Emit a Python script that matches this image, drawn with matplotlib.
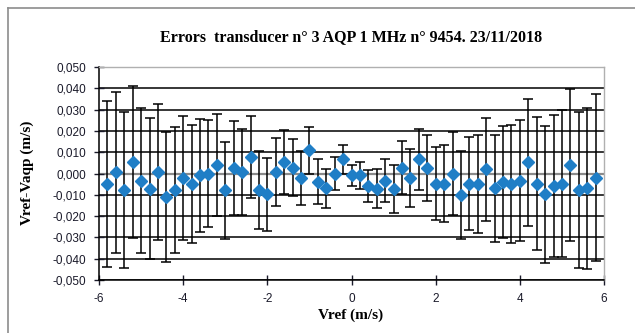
import matplotlib
matplotlib.use("Agg")
import matplotlib.pyplot as plt
from matplotlib.ticker import FixedLocator, FuncFormatter
from matplotlib.lines import Line2D

vref = [-5.8, -5.6, -5.4, -5.2, -5.0, -4.8, -4.6, -4.4, -4.2, -4.0,
        -3.8, -3.6, -3.4, -3.2, -3.0, -2.8, -2.6, -2.4, -2.2, -2.0,
        -1.8, -1.6, -1.4, -1.2, -1.0, -0.8, -0.6, -0.4, -0.2, 0.0,
        0.2, 0.4, 0.6, 0.8, 1.0, 1.2, 1.4, 1.6, 1.8, 2.0,
        2.2, 2.4, 2.6, 2.8, 3.0, 3.2, 3.4, 3.6, 3.8, 4.0,
        4.2, 4.4, 4.6, 4.8, 5.0, 5.2, 5.4, 5.6, 5.8]
error = [-0.0050, 0.0006, -0.0078, 0.0053, -0.0033, -0.0072, 0.0006, -0.0111, -0.0078, -0.0020,
         -0.0048, -0.0008, 0.0000, 0.0038, -0.0078, 0.0027, 0.0006, 0.0077, -0.0078, -0.0098,
         0.0006, 0.0055, 0.0027, -0.0020, 0.0108, -0.0039, -0.0070, 0.0000, 0.0066, -0.0009,
         -0.0009, -0.0059, -0.0072, -0.0033, -0.0072, 0.0027, -0.0020, 0.0066, 0.0027, -0.0048,
         -0.0048, 0.0000, -0.0102, -0.0048, -0.0048, 0.0019, -0.0070, -0.0039, -0.0048, -0.0033,
         0.0053, -0.0048, -0.0098, -0.0059, -0.0048, 0.0038, -0.0078, -0.0070, -0.0020]
uncert = [0.0391, 0.0378, 0.0368, 0.0357, 0.0342, 0.0331, 0.0319, 0.0305, 0.0297, 0.0290,
          0.0277, 0.0266, 0.0252, 0.0239, 0.0228, 0.0220, 0.0203, 0.0193, 0.0183, 0.0170,
          0.0159, 0.0149, 0.0133, 0.0127, 0.0110, 0.0105, 0.0092, 0.0077, 0.0066, 0.0051,
          0.0064, 0.0076, 0.0092, 0.0102, 0.0113, 0.0124, 0.0136, 0.0145, 0.0155, 0.0172,
          0.0182, 0.0193, 0.0207, 0.0218, 0.0231, 0.0241, 0.0251, 0.0262, 0.0277, 0.0285,
          0.0299, 0.0311, 0.0321, 0.0335, 0.0346, 0.0357, 0.0368, 0.0379, 0.0391]

xticks = [-6, -4, -2, 0, 2, 4, 6]
yticks = [-0.05, -0.04, -0.03, -0.02, -0.01, 0.0, 0.01, 0.02, 0.03, 0.04, 0.05]

W, H = 635, 333
fig = plt.figure(figsize=(W / 100, H / 100), dpi=100)
fig.patch.set_facecolor("white")

# outer chart frame (top and left visible)
fig.add_artist(Line2D([8 / W, 8 / W], [0, 1 - 8 / H], color="#8c8c8c", lw=1.2))
fig.add_artist(Line2D([8 / W, 1], [1 - 8 / H, 1 - 8 / H], color="#8c8c8c", lw=1.2))

left, right = 99 / W, 604 / W
top, bottom = 1 - 67 / H, 1 - 280 / H
ax = fig.add_axes([left, bottom, right - left, top - bottom])
ax.set_xlim(-6, 6)
ax.set_ylim(-0.05, 0.05)

for y in yticks:
    ax.axhline(y, color="black", lw=1.1, zorder=1)
ax.axhline(0, color="#8a8a8a", lw=1.6, zorder=1)

ax.errorbar(vref, error, yerr=uncert, fmt="none", ecolor="black",
            elinewidth=1.1, capsize=3.5, capthick=1.1, zorder=2)
ax.plot(vref, error, linestyle="none", marker="D", markersize=6.5,
        color="#1f7ec6", markeredgecolor="#1f7ec6", zorder=3)

ax.xaxis.set_major_locator(FixedLocator(xticks))
ax.yaxis.set_major_locator(FixedLocator(yticks))
ax.yaxis.set_major_formatter(FuncFormatter(lambda v, p: f"{v:.3f}".replace(".", ",").replace("-0,000", "0,000")))
ax.xaxis.set_major_formatter(FuncFormatter(lambda v, p: f"{v:.0f}"))

for s in ["top", "right"]:
    ax.spines[s].set_color("#b0b0b0")
    ax.spines[s].set_linewidth(1.0)
for s in ["left", "bottom"]:
    ax.spines[s].set_color("black")
    ax.spines[s].set_linewidth(1.1)

ax.tick_params(axis="both", direction="inout", length=7, width=1.0,
               labelsize=8.5, colors="#1a1a2a")
ax.tick_params(axis="y", pad=6)
ax.tick_params(axis="x", pad=6)
for lab in ax.get_xticklabels() + ax.get_yticklabels():
    lab.set_fontfamily("Liberation Sans")

fig.text(351 / W, 1 - 37 / H, "Errors  transducer n° 3 AQP 1 MHz n° 9454. 23/11/2018",
         ha="center", va="center", fontsize=11.5, fontweight="bold",
         family="Liberation Serif")
fig.text(351 / W, 1 - 315 / H, "Vref (m/s)", ha="center", va="center",
         fontsize=11, fontweight="bold", family="Liberation Serif")
fig.text(27 / W, 1 - 173 / H, "Vref-Vaqp (m/s)", ha="center", va="center",
         rotation=90, fontsize=11, fontweight="bold", family="Liberation Serif")

fig.savefig("out.png", dpi=100)
